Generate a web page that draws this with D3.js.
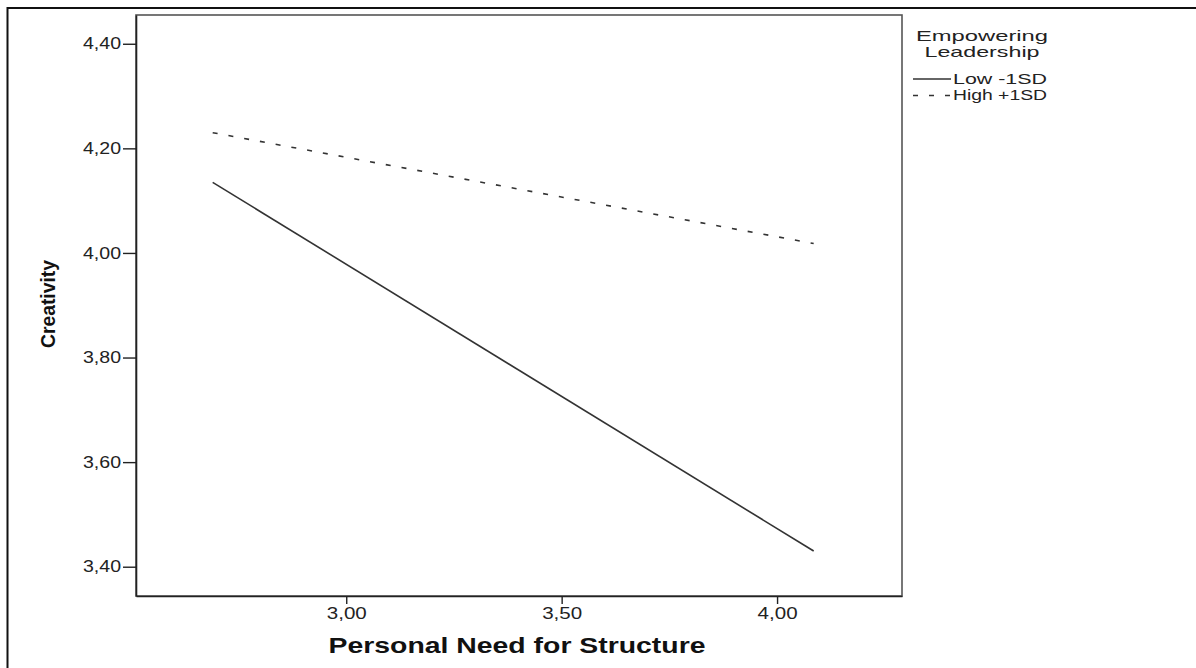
<!DOCTYPE html>
<html>
<head>
<meta charset="utf-8">
<script src="https://cdn.jsdelivr.net/npm/d3@7"></script>
<style>
  html, body { margin: 0; padding: 0; background: #fff; }
  svg { display: block; }
  text { font-family: "Liberation Sans", Arial, sans-serif; }
</style>
</head>
<body>
<svg id="chart" width="1196" height="668"></svg>
<script>
// Simple-slope values: predicted Creativity at low / high Personal Need for Structure
const nfsLevels = [2.69, 4.085];
const lowEmpowering = [4.135, 3.43];   // Low -1SD
const highEmpowering = [4.23, 4.018];  // High +1SD
const seriesNames = ["Low -1SD", "High +1SD"];
const yTickValues = [3.40, 3.60, 3.80, 4.00, 4.20, 4.40];
const xTickValues = [3.00, 3.50, 4.00];

const svg = d3.select("#chart");
const W = 1196, H = 668;
const plot = { left: 136, top: 15, right: 902, bottom: 596 };

const commaLocale = d3.formatLocale({ decimal: ",", thousands: ".", grouping: [3], currency: ["", ""] });
const fmt = commaLocale.format(".2f");

const x = d3.scaleLinear().domain([2.512, 4.29]).range([plot.left, plot.right]);
const y = d3.scaleLinear().domain([3.344, 4.455]).range([plot.bottom, plot.top]);

// outer frame
svg.append("rect")
  .attr("x", 7.5).attr("y", 8)
  .attr("width", W + 10).attr("height", H + 10)
  .attr("fill", "#fff").attr("stroke", "#111").attr("stroke-width", 2);

// plot box
svg.append("rect")
  .attr("x", plot.left).attr("y", plot.top)
  .attr("width", plot.right - plot.left).attr("height", plot.bottom - plot.top)
  .attr("fill", "none").attr("stroke", "#555").attr("stroke-width", 1.6);

// y axis
const yAxis = svg.append("g")
  .attr("transform", `translate(${plot.left},0)`)
  .call(d3.axisLeft(y).tickValues(yTickValues).tickFormat(fmt)
    .tickSizeInner(13).tickSizeOuter(0).tickPadding(2));
yAxis.select(".domain").attr("stroke", "#222").attr("stroke-width", 1.6);
yAxis.selectAll(".tick line").attr("stroke", "#222").attr("stroke-width", 1.4);
yAxis.selectAll(".tick text")
  .attr("font-family", "'Liberation Sans', Arial, sans-serif")
  .attr("font-size", 16).attr("fill", "#222")
  .attr("textLength", 38).attr("lengthAdjust", "spacingAndGlyphs");

// x axis
const xAxis = svg.append("g")
  .attr("transform", `translate(0,${plot.bottom})`)
  .call(d3.axisBottom(x).tickValues(xTickValues).tickFormat(fmt)
    .tickSizeInner(8).tickSizeOuter(0).tickPadding(4));
xAxis.select(".domain").attr("stroke", "#222").attr("stroke-width", 1.6);
xAxis.selectAll(".tick line").attr("stroke", "#222").attr("stroke-width", 1.4);
xAxis.selectAll(".tick text")
  .attr("font-family", "'Liberation Sans', Arial, sans-serif")
  .attr("font-size", 16).attr("fill", "#222")
  .attr("textLength", 40).attr("lengthAdjust", "spacingAndGlyphs");

// axis titles
svg.append("text")
  .attr("x", (plot.left + plot.right) / 2 - 2).attr("y", 653)
  .attr("text-anchor", "middle")
  .attr("font-size", 22).attr("font-weight", "bold").attr("fill", "#111")
  .attr("textLength", 377).attr("lengthAdjust", "spacingAndGlyphs")
  .text("Personal Need for Structure");

svg.append("text")
  .attr("transform", `translate(55,304) rotate(-90)`)
  .attr("text-anchor", "middle")
  .attr("font-size", 20).attr("font-weight", "bold").attr("fill", "#111")
  .attr("textLength", 88).attr("lengthAdjust", "spacingAndGlyphs")
  .text("Creativity");

// slope lines
const line = d3.line().x(d => x(d[0])).y(d => y(d[1]));
const series = [
  { name: seriesNames[0], values: lowEmpowering, dash: null },
  { name: seriesNames[1], values: highEmpowering, dash: "5,11" }
];
svg.append("g").selectAll("path")
  .data(series)
  .join("path")
  .attr("d", s => line(nfsLevels.map((v, i) => [v, s.values[i]])))
  .attr("fill", "none")
  .attr("stroke", "#333")
  .attr("stroke-width", 1.6)
  .attr("stroke-dasharray", s => s.dash);

// legend
const legend = svg.append("g");
legend.append("text")
  .attr("x", 982).attr("y", 41).attr("text-anchor", "middle")
  .attr("font-size", 15).attr("fill", "#222")
  .attr("textLength", 132).attr("lengthAdjust", "spacingAndGlyphs")
  .text("Empowering");
legend.append("text")
  .attr("x", 982).attr("y", 57).attr("text-anchor", "middle")
  .attr("font-size", 15).attr("fill", "#222")
  .attr("textLength", 115).attr("lengthAdjust", "spacingAndGlyphs")
  .text("Leadership");

const rows = legend.selectAll("g.row")
  .data(series)
  .join("g")
  .attr("class", "row")
  .attr("transform", (d, i) => `translate(0,${79 + i * 16.5})`);
rows.append("line")
  .attr("x1", 913).attr("x2", 951).attr("y1", 0).attr("y2", 0)
  .attr("stroke", "#333").attr("stroke-width", 1.4)
  .attr("stroke-dasharray", d => d.dash ? "5,11" : null);
rows.append("text")
  .attr("x", 953).attr("y", 4.8)
  .attr("font-size", 14).attr("fill", "#222")
  .attr("textLength", 94).attr("lengthAdjust", "spacingAndGlyphs")
  .text(d => d.name);
</script>
</body>
</html>
